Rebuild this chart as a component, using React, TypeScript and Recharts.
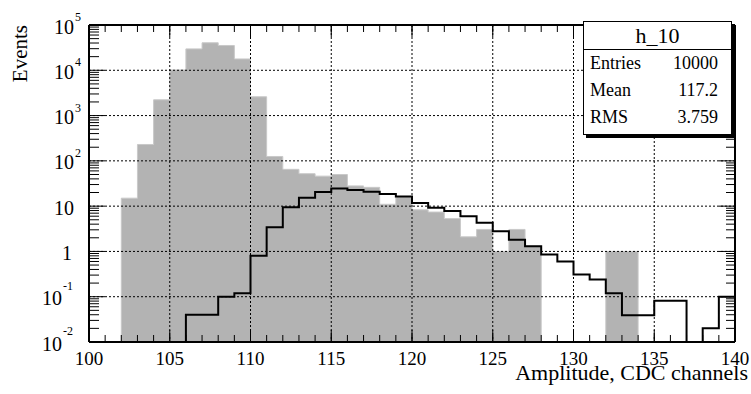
import React from 'react';
import { ComposedChart, Area, Line, XAxis, YAxis, CartesianGrid } from 'recharts';

// lower edge of each 1-channel bin
const binLow = [
  100, 101, 102, 103, 104, 105, 106, 107, 108, 109,
  110, 111, 112, 113, 114, 115, 116, 117, 118, 119,
  120, 121, 122, 123, 124, 125, 126, 127, 128, 129,
  130, 131, 132, 133, 134, 135, 136, 137, 138, 139,
];
const binEnd = 140;

// filled (gray) histogram h_10
const grayCounts = [
  0, 0, 15, 230, 2230, 10200, 29700, 40500, 35300, 17800,
  2600, 125, 65, 52, 46, 50, 28, 26, 11, 16,
  8.3, 7.4, 5.3, 2.1, 3.06, 1.0, 3.06, 1.3, 0, 0,
  0, 0, 1.0, 1.0, 0, 0, 0, 0, 0, 0,
];

// black outline histogram
const lineCounts = [
  0, 0, 0, 0, 0, 0, 0.04, 0.04, 0.1, 0.12,
  0.8, 3.4, 9.4, 15.4, 20.4, 24.6, 22.8, 20.9, 18.6, 16.3,
  11.8, 9.2, 7.8, 6.0, 4.3, 2.8, 1.8, 1.3, 0.86, 0.6,
  0.31, 0.24, 0.12, 0.039, 0.039, 0.081, 0.081, 0, 0.02, 0.1,
];

const xMajorTicks = [100, 105, 110, 115, 120, 125, 130, 135, 140];
const xMinorTicks = [...binLow, binEnd];

const yTicks = [0.01, 0.1, 1, 10, 100, 1000, 10000, 100000];
const yTickBase = ['10', '10', '1', '10', '10', '10', '10', '10'];
const yTickExp = ['-2', '-1', '', '', '2', '3', '4', '5'];
const yMinorTicks = yTicks.slice(0, -1).flatMap((d) => [2, 3, 4, 5, 6, 7, 8, 9].map((k) => d * k));

const statNames = ['Entries', 'Mean', 'RMS'];
const statValues = ['10000', '117.2', '3.759'];

const LOG_FLOOR = 1e-4; // empty bins sit below the visible range
const FONT = '"Liberation Serif", "Times New Roman", serif';

const table = xMinorTicks.map((x, i) => {
  const j = Math.min(i, binLow.length - 1);
  return {
    x,
    gray: grayCounts[j] > 0 ? grayCounts[j] : LOG_FLOOR,
    line: lineCounts[j] > 0 ? lineCounts[j] : LOG_FLOOR,
  };
});

const renderYTick = (props: any) => {
  const { x, y, payload } = props;
  const i = yTicks.indexOf(payload.value);
  if (i < 0) return <g />;
  const base = yTickBase[i];
  const exp = yTickExp[i];
  const neg = exp.startsWith('-');
  const end = x - (neg ? 27 : base === '1' ? 17 : 15);
  return (
    <g>
      <text x={end} y={y + 8.5} textAnchor="end" fontSize={20} fontFamily={FONT} fill="#000">
        {base}
      </text>
      {exp && (
        <text x={end + 1} y={y - (neg ? 7 : 4)} fontSize={12} fontFamily={FONT} fill="#000">
          {exp}
        </text>
      )}
    </g>
  );
};

// tick-only axes: draw the tick line, no label
const noLabel = () => <g />;

const renderYTitle = (props: any) => {
  const vb = props.viewBox;
  const tx = vb.x + 8;
  const ty = vb.y;
  return (
    <text x={tx} y={ty} transform={`rotate(-90 ${tx} ${ty})`} textAnchor="end" fontSize={21} fontFamily={FONT} fill="#000">
      Events
    </text>
  );
};

const renderXTitle = (props: any) => {
  const vb = props.viewBox;
  return (
    <text x={vb.x + vb.width + 13} y={vb.y + 38} textAnchor="end" fontSize={22} fontFamily={FONT} fill="#000">
      Amplitude, CDC channels
    </text>
  );
};

const frame = { stroke: '#000', strokeWidth: 2 };
const tickStroke = { stroke: '#000', strokeWidth: 1 };
const xDomain = [100, 140];
const yDomain = [0.01, 100000];

const App: React.FC = () => {
  return (
    <div style={{ position: 'absolute', left: 0, top: 0, width: 751, height: 394, background: '#fff', fontFamily: FONT }}>
      <ComposedChart width={751} height={394} data={table} margin={{ top: 25, right: 16, bottom: 22, left: 19 }}>
        <XAxis
          dataKey="x"
          type="number"
          domain={xDomain}
          allowDataOverflow
          ticks={xMajorTicks}
          interval={0}
          tickLine={false}
          tickSize={0}
          tickMargin={10}
          axisLine={frame}
          height={30}
          tick={{ fontSize: 19, fill: '#000', fontFamily: FONT }}
          label={renderXTitle}
        />
        <XAxis xAxisId="bMajor" dataKey="x" orientation="bottom" mirror type="number" domain={xDomain} allowDataOverflow
          ticks={xMajorTicks} interval={0} tick={noLabel} tickSize={12} tickLine={tickStroke} axisLine={false} height={1} />
        <XAxis xAxisId="bMinor" dataKey="x" orientation="bottom" mirror type="number" domain={xDomain} allowDataOverflow
          ticks={xMinorTicks} interval={0} tick={noLabel} tickSize={6} tickLine={tickStroke} axisLine={false} height={1} />
        <XAxis xAxisId="tMajor" dataKey="x" orientation="top" mirror type="number" domain={xDomain} allowDataOverflow
          ticks={xMajorTicks} interval={0} tick={noLabel} tickSize={12} tickLine={tickStroke} axisLine={frame} height={1} />
        <XAxis xAxisId="tMinor" dataKey="x" orientation="top" mirror type="number" domain={xDomain} allowDataOverflow
          ticks={xMinorTicks} interval={0} tick={noLabel} tickSize={6} tickLine={tickStroke} axisLine={false} height={1} />

        <YAxis
          type="number"
          scale="log"
          domain={yDomain}
          allowDataOverflow
          ticks={yTicks}
          interval={0}
          tickLine={false}
          tickSize={0}
          tickMargin={0}
          tick={renderYTick}
          axisLine={frame}
          width={70}
          label={renderYTitle}
        />
        <YAxis yAxisId="lMajor" orientation="left" mirror type="number" scale="log" domain={yDomain} allowDataOverflow
          ticks={yTicks} interval={0} tick={noLabel} tickSize={16} tickLine={tickStroke} axisLine={false} width={1} />
        <YAxis yAxisId="lMinor" orientation="left" mirror type="number" scale="log" domain={yDomain} allowDataOverflow
          ticks={yMinorTicks} interval={0} tick={noLabel} tickSize={9} tickLine={tickStroke} axisLine={false} width={1} />
        <YAxis yAxisId="rMajor" orientation="right" mirror type="number" scale="log" domain={yDomain} allowDataOverflow
          ticks={yTicks} interval={0} tick={noLabel} tickSize={16} tickLine={tickStroke} axisLine={frame} width={1} />
        <YAxis yAxisId="rMinor" orientation="right" mirror type="number" scale="log" domain={yDomain} allowDataOverflow
          ticks={yMinorTicks} interval={0} tick={noLabel} tickSize={8} tickLine={tickStroke} axisLine={false} width={1} />

        <Area
          type="stepAfter"
          dataKey="gray"
          baseValue={yTicks[0]}
          fill="#b3b3b3"
          fillOpacity={1}
          stroke="#c9c9c9"
          strokeWidth={1}
          isAnimationActive={false}
          dot={false}
          activeDot={false}
        />
        <CartesianGrid stroke="#000" strokeDasharray="2 2" strokeWidth={1} {...({ zIndex: 150 } as any)} />
        <Line
          type="stepAfter"
          dataKey="line"
          stroke="#000"
          strokeWidth={2}
          dot={false}
          activeDot={false}
          isAnimationActive={false}
        />
      </ComposedChart>

      <div
        style={{
          position: 'absolute',
          left: 583,
          top: 21,
          width: 149,
          height: 114,
          boxSizing: 'border-box',
          border: '1px solid #000',
          background: '#fff',
          boxShadow: '3px 3px 0 #000',
          color: '#000',
        }}
      >
        <div style={{ height: 27, lineHeight: '27px', textAlign: 'center', fontSize: 22, borderBottom: '1px solid #000' }}>
          h_10
        </div>
        {statNames.map((name, i) => (
          <div
            key={name}
            style={{
              height: 27,
              lineHeight: '27px',
              fontSize: 18,
              display: 'flex',
              justifyContent: 'space-between',
              padding: '0 13px 0 6px',
            }}
          >
            <span>{name}</span>
            <span>{statValues[i]}</span>
          </div>
        ))}
      </div>
    </div>
  );
};

export default App;
